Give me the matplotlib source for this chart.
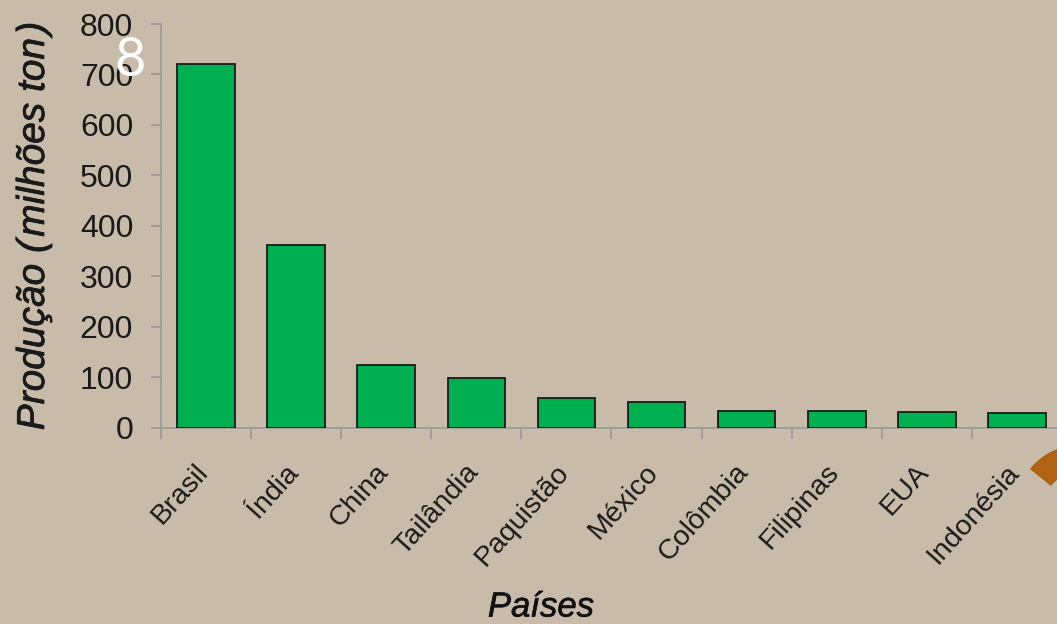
import matplotlib
matplotlib.use('Agg')
import matplotlib.pyplot as plt
import matplotlib.patheffects as pe
from matplotlib.patches import Wedge
from matplotlib.transforms import Affine2D

paises = ['Brasil', 'Índia', 'China', 'Tailândia', 'Paquistão', 'México',
          'Colômbia', 'Filipinas', 'EUA', 'Indonésia']
producao = [720, 362, 124, 98, 58, 51, 33, 33, 31, 28]
yticks = [0, 100, 200, 300, 400, 500, 600, 700, 800]

W, H = 1057, 624
bg = '#C8BBA9'
cinza = '#9A9A9A'

plt.rcParams['font.family'] = ['Liberation Sans', 'DejaVu Sans']

fig = plt.figure(figsize=(W / 100, H / 100), dpi=100, facecolor=bg)
ax = fig.add_axes([161 / W, 1 - 427.5 / H, 901 / W, 403.5 / H], facecolor=bg)

pos = list(range(len(paises)))
ax.bar(pos, producao, width=0.64, color='#00B050', edgecolor='#1A1A1A', linewidth=1.3, zorder=3)

ax.set_xlim(-0.5, 9.5)
ax.set_ylim(0, 800)
ax.set_yticks(yticks)
ax.set_xticks([p - 0.5 for p in pos])
ax.set_xticklabels([])

for s in ['top', 'right']:
    ax.spines[s].set_visible(False)
for s in ['left', 'bottom']:
    ax.spines[s].set_color(cinza)
    ax.spines[s].set_linewidth(1.2)
ax.tick_params(axis='y', direction='out', length=7, width=1.2, color=cinza,
               labelsize=23, labelcolor='#1A1A1A', pad=13)
ax.tick_params(axis='x', direction='out', length=8, width=1.2, color=cinza)

# rotulos dos paises, ancorados pelo fim do texto
for p, nome in zip(pos, paises):
    ax.annotate(nome, xy=(p, 0), xycoords=('data', 'axes fraction'), xytext=(-8.5, -23),
                textcoords='offset points', rotation=48, ha='right', va='top',
                rotation_mode='anchor', fontsize=20.5, color='#1A1A1A')

# titulos dos eixos um pouco mais pesados que o italico normal
reforco = [pe.withStroke(linewidth=0.5, foreground='#1A1A1A')]
fig.text(34 / W, 1 - 226 / H, 'Produção (\u200amilhões ton\u200a)', rotation=90, ha='center', va='center',
         fontsize=28, fontstyle='italic', color='#1A1A1A', path_effects=reforco)
fig.text(541 / W, 1 - 607 / H, 'Países', ha='center', va='center',
         fontsize=25, fontstyle='italic', color='#111111', path_effects=reforco)

# numero do slide
fig.text(130 / W, 1 - 61 / H, '8', ha='center', va='center', fontsize=39, color='white',
         family='Lato', fontweight='normal')

# detalhe decorativo no canto direito
px = Affine2D().scale(1 / W, -1 / H).translate(0, 1) + fig.transFigure
fig.add_artist(Wedge((1079, 507.4), 61.5, 218.7, 300, width=25.5, facecolor='#B06414',
                     edgecolor='#A55D12', linewidth=1, transform=px))

fig.savefig('out.png', dpi=100, facecolor=bg)
